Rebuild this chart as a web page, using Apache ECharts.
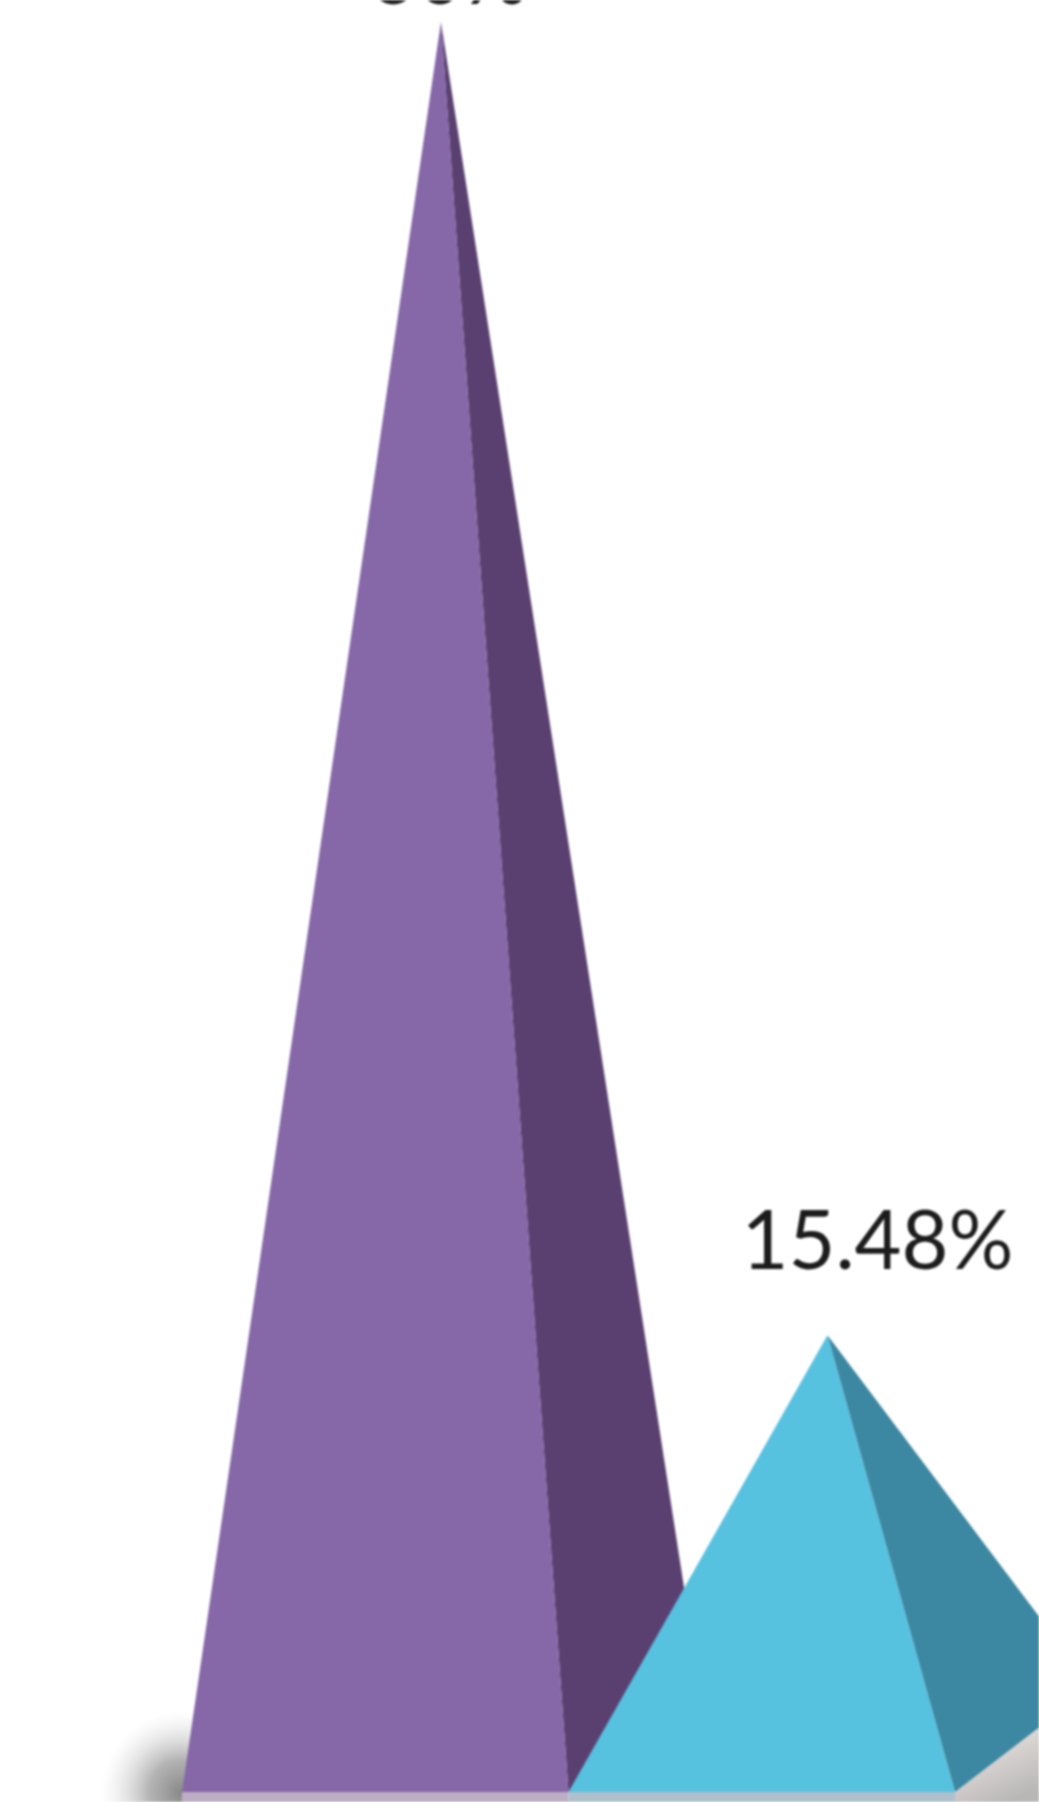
<!DOCTYPE html>
<html>
<head>
<meta charset="utf-8">
<style>
html,body{margin:0;padding:0;background:#fff;overflow:hidden}
#chart{width:1039px;height:1802px;filter:blur(1.1px)}
</style>
<script src="https://cdn.jsdelivr.net/npm/echarts@6/dist/echarts.min.js"></script>
</head>
<body>
<div id="chart"></div>
<script>
// data
var categories = ['A', 'B'];
var values = [60, 15.48];
var valueLabels = ['60%', '15.48%'];
// colours
var frontColors = ['#8667A8', '#57C1E0'];
var sideColors = ['#5A4070', '#3C87A1'];
var floorColors = ['#BDAEC4', '#AFC0CC'];
// layout of the drawn pyramid, relative to the category band
var apexRatio = 0.67;
var backOffsetX = [131, 137], backOffsetY = -105;
var labelOffsetX = [8, 50], labelOffsetY = [-44, -92];

var chart = echarts.init(document.getElementById('chart'));

function renderPyramid(params, api) {
  var i = api.value(0);
  var base = api.coord([i, 0]);
  var top = api.coord([i, api.value(1)]);
  var band = api.size([1, 0])[0];
  var left = base[0] - band / 2, right = base[0] + band / 2, y0 = base[1];
  var ax = left + band * apexRatio, ay = top[1];
  var bx = right + backOffsetX[i], by = y0 + backOffsetY;
  var kids = [];
  if (i === 0) {
    kids.push({
      type: 'rect', shape: {x: left - 85, y: y0 - 85, width: 105, height: 95},
      style: {fill: {type: 'radial', x: 0.81, y: 0.895, r: 0.85, colorStops: [
        {offset: 0, color: 'rgba(135,135,135,1)'},
        {offset: 0.4, color: 'rgba(160,160,160,0.8)'},
        {offset: 1, color: 'rgba(220,220,220,0)'}]}}
    });
  }
  if (i === categories.length - 1) {
    kids.push({
      type: 'polygon',
      shape: {points: [[right, y0], [bx, by], [bx, y0 + 10], [right, y0 + 10]]},
      style: {fill: {type: 'linear', x: 0, y: 0, x2: 0.4, y2: 1, colorStops: [
        {offset: 0, color: '#B8B4B2'}, {offset: 0.6, color: '#DAD6D4'}, {offset: 1, color: '#B9B7B6'}]}}
    });
  }
  kids.push({type: 'rect', shape: {x: left, y: y0, width: band, height: 10}, style: {fill: floorColors[i]}});
  kids.push({
    type: 'polygon',
    shape: {points: [[ax, ay], [right, y0], [bx, by]]},
    style: {fill: sideColors[i]}
  });
  kids.push({
    type: 'polygon',
    shape: {points: [[ax, ay], [left, y0], [right, y0]]},
    style: {fill: frontColors[i]}
  });
  kids.push({
    type: 'text',
    style: {
      x: ax + labelOffsetX[i], y: ay + labelOffsetY[i],
      text: valueLabels[i], fill: '#1c1c1c',
      font: '81px Lato', align: 'center', verticalAlign: 'middle'
    }
  });
  return {type: 'group', children: kids};
}

chart.setOption({
  animation: false,
  backgroundColor: '#ffffff',
  grid: {left: 182, width: 773, top: 22, bottom: 10, containLabel: false},
  xAxis: {type: 'category', data: categories, show: false},
  yAxis: {type: 'value', min: 0, max: 60, show: false},
  series: [{
    type: 'custom',
    clip: false,
    renderItem: renderPyramid,
    encode: {x: 0, y: 1},
    data: values.map(function (v, i) { return [i, v]; })
  }]
});
</script>
</body>
</html>
